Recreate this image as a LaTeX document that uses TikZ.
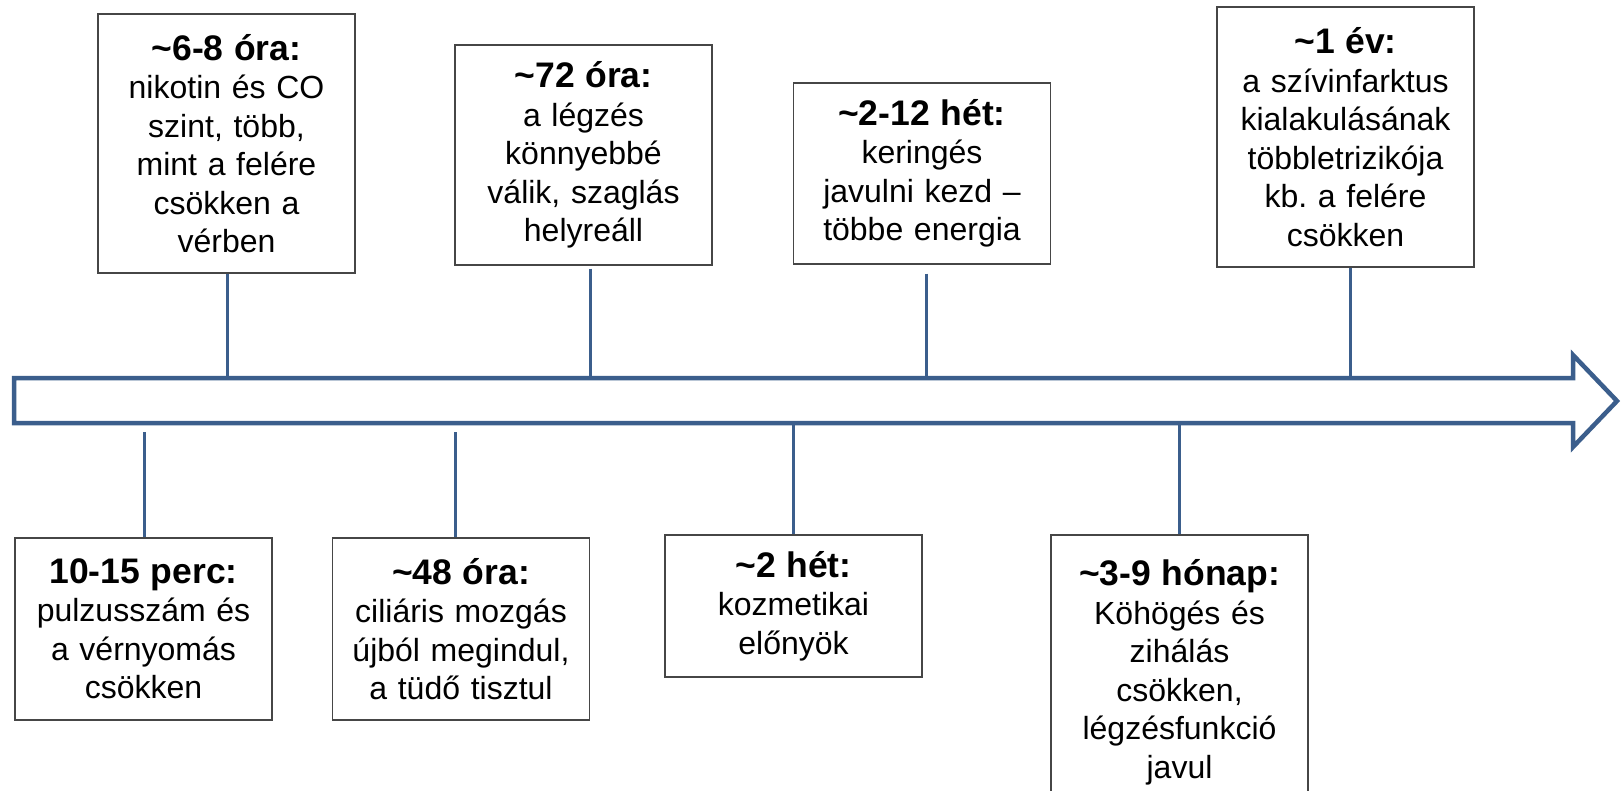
\documentclass[tikz,border=0pt]{standalone}
\usepackage{fontspec}
\setmainfont{Liberation Sans}
\definecolor{tl}{RGB}{59,94,140}
\definecolor{bx}{RGB}{70,70,70}
\newcommand{\hdr}[1]{{\fontsize{35.5}{38.5}\selectfont\bfseries #1}}
\frenchspacing
\begin{document}
\begin{tikzpicture}[x=1pt,y=-1pt,
  evbox/.style={draw=bx, line width=1.5pt, fill=white, inner sep=0pt,
    text width=257pt, align=center, font=\fontsize{32}{38.5}\selectfont},
  conn/.style={draw=tl, line width=3pt},
  axis/.style={draw=tl, line width=4.5pt, line join=miter, fill=white}]
\useasboundingbox[fill=white] (0,0) rectangle (1624,791);

% timeline arrow
\draw[axis] (14,378) -- (1573,378) -- (1573,355) -- (1617,401) -- (1573,447) -- (1573,423) -- (14,423) -- cycle;

% boxes above
\node[evbox, minimum height=259pt] (A) at (226.5,143.5)
  {\hdr{\textasciitilde 6-8 óra:}\\nikotin és CO\\szint, több,\\mint a felére\\csökken a\\vérben};
\node[evbox, minimum height=220pt] (B) at (583.5,155)
  {\hdr{\textasciitilde 72 óra:}\\a légzés\\könnyebbé\\válik, szaglás\\helyreáll};
\node[evbox, minimum height=181pt] (C) at (922,173.5)
  {\hdr{\textasciitilde 2-12 hét:}\\keringés\\javulni kezd –\\többe energia};
\node[evbox, minimum height=260pt] (D) at (1345.5,137)
  {\hdr{\textasciitilde 1 év:}\\a szívinfarktus\\kialakulásának\\többletrizikója\\kb. a felére\\csökken};

% boxes below
\node[evbox, minimum height=182pt] (E) at (143.5,629)
  {\hdr{10-15 perc:}\\pulzusszám és\\a vérnyomás\\csökken};
\node[evbox, minimum height=182pt] (F) at (461,629)
  {\hdr{\textasciitilde 48 óra:}\\ciliáris mozgás\\újból megindul,\\a tüdő tisztul};
\node[evbox, minimum height=142pt] (G) at (793.5,606)
  {\hdr{\textasciitilde 2 hét:}\\kozmetikai\\előnyök};
\node[evbox, minimum height=275pt] (H) at (1179.5,672.5)
  {\hdr{\textasciitilde 3-9 hónap:}\\Köhögés és\\zihálás\\csökken,\\légzésfunkció\\javul};

% attachment points on the timeline
\coordinate (tA) at (227,377);
\coordinate (tB) at (590,377);
\coordinate (tC) at (926,377);
\coordinate (tD) at (1350,377);
\coordinate (tE) at (144,432);
\coordinate (tF) at (455,432);
\coordinate (tG) at (793,425);
\coordinate (tH) at (1179,425);

% connectors
\draw[conn] (A.south -| tA) -- (tA);
\draw[conn] ([yshift=-3pt]B.south -| tB) -- (tB);
\draw[conn] ([yshift=-9pt]C.south -| tC) -- (tC);
\draw[conn] (D.south -| tD) -- (tD);
\draw[conn] (tE) -- (E.north -| tE);
\draw[conn] (tF) -- (F.north -| tF);
\draw[conn] (tG) -- (G.north -| tG);
\draw[conn] (tH) -- (H.north -| tH);
\end{tikzpicture}
\end{document}
